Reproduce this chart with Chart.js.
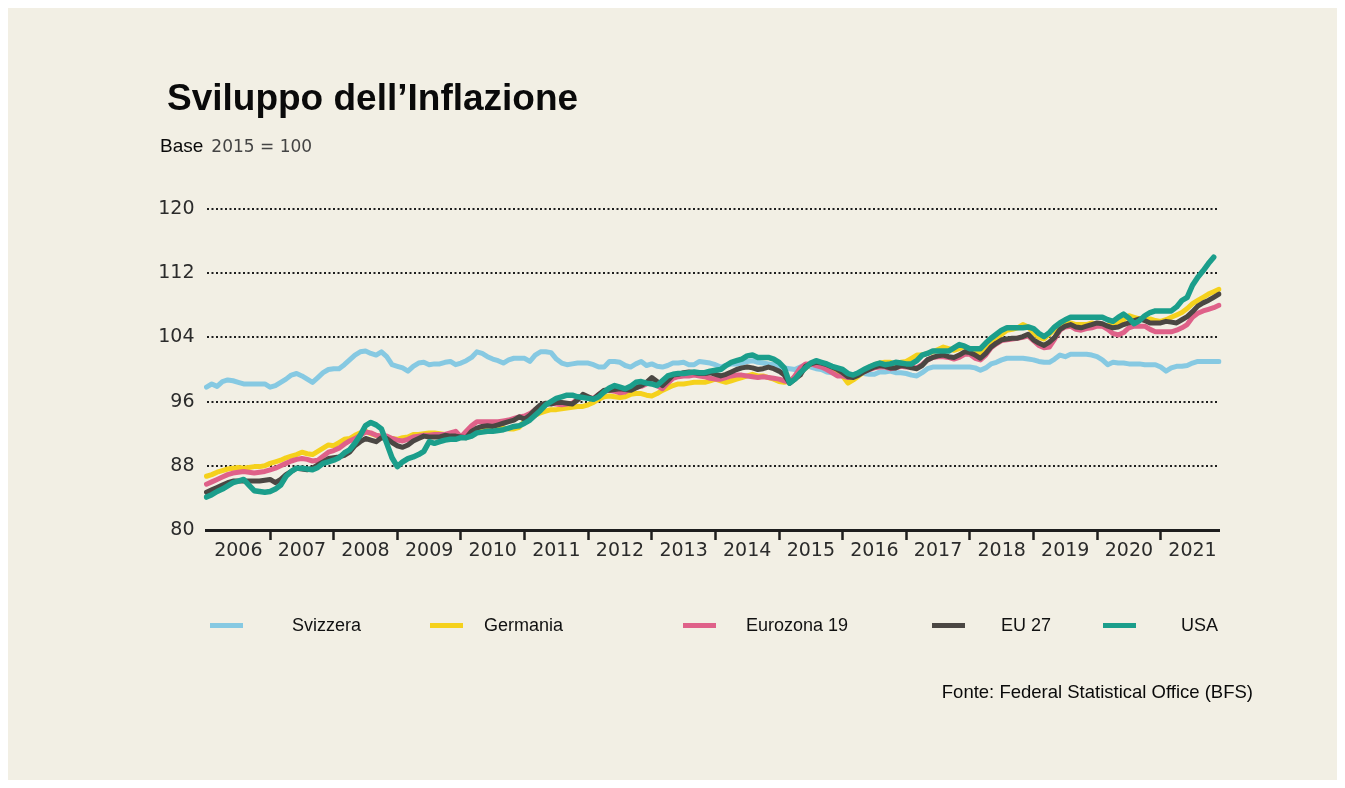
<!DOCTYPE html>
<html>
<head>
<meta charset="utf-8">
<script src="https://cdn.jsdelivr.net/npm/chart.js@4"></script>
<style>
  html, body { margin: 0; padding: 0; background: #ffffff; }
  #panel {
    position: absolute; left: 8px; top: 8px; width: 1329px; height: 772px;
    background: #f2efe4;
  }
  #wrap { position: absolute; left: 0; top: 0; width: 1345px; height: 788px; }
  .txt { position: absolute; white-space: nowrap; color: #0a0a0a; }
  #title { left: 167px; top: 79px; font: bold 37px "Liberation Sans", Arial, sans-serif; line-height: 37px; }
  #base { left: 160px; top: 136px; font: 19px "Liberation Sans", Arial, sans-serif; line-height: 19px; }
  #base span { font: 17px "DejaVu Sans", sans-serif; color: #444; margin-left: 8px; }
  .lg-line { position: absolute; width: 33px; height: 5px; top: 623px; }
  .lg-text { position: absolute; top: 616px; font: 18px "Liberation Sans", Arial, sans-serif; line-height: 18px; color: #111; }
  #source { right: 92px; top: 682px; font: 18.5px "Liberation Sans", Arial, sans-serif; line-height: 19px; }
</style>
</head>
<body>
<div id="panel"></div>
<div id="wrap"><canvas id="inflChart" width="1345" height="788"></canvas></div>
<div class="txt" id="title">Sviluppo dell’Inflazione</div>
<div class="txt" id="base">Base<span>2015 = 100</span></div>
<div id="legend"></div>
<div class="txt" id="source">Fonte: Federal Statistical Office (BFS)</div>
<script>
const years = [2006, 2007, 2008, 2009, 2010, 2011, 2012, 2013, 2014, 2015, 2016, 2017, 2018, 2019, 2020, 2021];
const yTicks = [80, 88, 96, 104, 112, 120];

// monthly index values, Jan 2006 - Dec 2021 (one row per year)
const svizzera = [
  97.8, 98.2, 97.9, 98.5, 98.7, 98.6, 98.4, 98.2, 98.2, 98.2, 98.2, 98.2,
  97.8, 98.0, 98.4, 98.8, 99.3, 99.5, 99.2, 98.8, 98.4, 99.0, 99.6, 100.0,
  100.1, 100.1, 100.6, 101.2, 101.8, 102.2, 102.3, 102.0, 101.8, 102.2, 101.6, 100.6,
  100.4, 100.2, 99.8, 100.4, 100.8, 100.9, 100.6, 100.7, 100.7, 100.9, 101.0, 100.6,
  100.8, 101.1, 101.5, 102.2, 102.0, 101.6, 101.3, 101.1, 100.8, 101.2, 101.4, 101.4,
  101.4, 101.0, 101.8, 102.2, 102.2, 102.1, 101.3, 100.8, 100.6, 100.7, 100.8, 100.8,
  100.8, 100.6, 100.3, 100.3, 101.0, 101.0, 100.9, 100.5, 100.3, 100.7, 101.0, 100.5,
  100.7, 100.4, 100.3, 100.5, 100.8, 100.8, 100.9, 100.6, 100.6, 101.0, 100.9, 100.8,
  100.6, 100.3, 100.5, 100.7, 100.7, 100.8, 101.0, 101.1, 100.9, 100.8, 100.7, 100.6,
  100.4, 100.2, 100.1, 100.0, 100.3, 100.6, 100.3, 100.1, 100.0, 99.7, 99.6, 99.6,
  99.6, 99.3, 99.3, 99.6, 99.5, 99.4, 99.4, 99.7, 99.7, 99.8, 99.6, 99.6,
  99.5, 99.3, 99.2, 99.6, 100.1, 100.3, 100.3, 100.3, 100.3, 100.3, 100.3, 100.3,
  100.3, 100.2, 99.9, 100.2, 100.7, 100.9, 101.2, 101.4, 101.4, 101.4, 101.4, 101.3,
  101.2, 101.0, 100.9, 100.9, 101.3, 101.8, 101.6, 101.9, 101.9, 101.9, 101.9, 101.8,
  101.6, 101.2, 100.6, 100.9, 100.8, 100.8, 100.7, 100.7, 100.7, 100.6, 100.6, 100.6,
  100.3, 99.8, 100.2, 100.4, 100.4, 100.5, 100.8, 101.0, 101.0, 101.0, 101.0, 101.0
];
const germania = [
  86.7, 86.9, 87.2, 87.4, 87.6, 87.7, 87.8, 87.7, 87.8, 87.9, 87.9, 88.0,
  88.3, 88.5, 88.7, 89.0, 89.2, 89.4, 89.7, 89.5, 89.4, 89.8, 90.2, 90.6,
  90.5, 90.9, 91.3, 91.4, 91.8, 92.1, 92.3, 92.0, 91.8, 91.6, 91.5, 91.4,
  91.3, 91.5, 91.6, 91.9, 91.9, 92.0, 92.1, 92.1, 92.0, 91.9, 91.9, 91.8,
  91.7, 91.9, 92.1, 92.4, 92.5, 92.5, 92.6, 92.6, 92.7, 92.6, 92.6, 92.8,
  93.6, 94.0, 94.3, 94.6, 94.8, 95.0, 95.0, 95.1, 95.2, 95.3, 95.4, 95.4,
  95.6, 95.9, 96.3, 96.6, 96.7, 96.6, 96.5, 96.6, 96.9, 97.0, 97.0, 96.8,
  96.7, 97.0, 97.4, 97.7, 98.0, 98.2, 98.2, 98.3, 98.4, 98.4, 98.4, 98.6,
  98.8, 98.6, 98.4, 98.6, 98.8, 99.0, 99.2, 99.4, 99.2, 99.2, 99.0, 98.8,
  98.5, 98.4, 98.6, 99.0, 99.6, 100.2, 100.7, 100.6, 100.4, 100.2, 100.0, 99.8,
  99.2, 98.3, 98.7, 99.2, 99.7, 100.3, 100.6, 100.8, 100.9, 100.9, 100.6, 100.9,
  101.0, 101.4, 101.8, 101.8, 102.0, 102.2, 102.5, 102.8, 102.6, 102.4, 102.6, 102.9,
  102.4, 102.3, 102.0, 102.4, 103.2, 103.8, 104.4, 104.9, 105.0, 105.2, 105.6, 105.3,
  104.6, 104.0, 103.8, 104.4, 105.0, 105.5, 105.8, 105.8, 105.6, 105.6, 105.6, 105.8,
  105.6, 105.4, 105.5, 105.7, 105.8, 106.2, 106.7, 106.5, 106.3, 106.3, 106.3, 106.1,
  106.0, 106.2, 106.5, 106.8, 107.1, 107.6, 108.2, 108.6, 109.0, 109.4, 109.7, 110.0
];
const eurozona = [
  85.7, 86.0, 86.3, 86.6, 86.9, 87.1, 87.2, 87.3, 87.2, 87.1, 87.2, 87.3,
  87.5, 87.7, 88.0, 88.3, 88.6, 88.8, 88.9, 88.8, 88.6, 88.7, 89.2, 89.7,
  89.9, 90.2, 90.7, 91.1, 91.4, 91.8, 92.2, 92.1, 91.8, 91.7, 91.7, 91.4,
  91.2, 91.1, 91.3, 91.6, 91.7, 91.8, 91.8, 91.9, 91.9, 91.9, 92.1, 92.3,
  91.6, 92.3, 93.0, 93.5, 93.5, 93.5, 93.5, 93.5, 93.6, 93.7, 93.9, 94.1,
  94.2, 94.5, 95.0, 95.4, 95.6, 95.8, 95.7, 95.6, 95.7, 95.8, 96.3, 96.7,
  96.5, 96.4, 96.9, 97.3, 97.4, 97.3, 97.1, 97.2, 97.6, 97.8, 97.9, 98.2,
  98.6, 98.0, 97.6, 98.3, 98.9, 99.1, 99.2, 99.2, 99.3, 99.2, 99.1, 98.9,
  98.8, 98.8, 99.0, 99.2, 99.3, 99.3, 99.2, 99.1, 99.0, 99.1, 99.0, 98.9,
  98.8, 98.6, 98.4, 99.2, 100.2, 100.7, 100.7, 100.5, 100.3, 100.0, 99.6, 99.2,
  99.2, 99.0, 99.1, 99.4, 99.7, 100.0, 100.2, 100.3, 100.3, 100.1, 100.2, 100.4,
  100.3, 100.3, 100.2, 100.6, 101.2, 101.5, 101.6, 101.6, 101.5, 101.3, 101.5, 101.9,
  101.9, 101.4, 101.2, 101.8, 102.7, 103.2, 103.6, 103.7, 103.8, 103.9, 104.0, 104.2,
  103.6, 103.0, 102.7, 102.8, 103.8, 104.9, 105.3, 105.4, 105.0, 104.9, 105.1, 105.2,
  105.4, 105.4, 105.0, 104.5, 104.3, 104.6, 105.2, 105.4, 105.4, 105.4, 105.0, 104.7,
  104.7, 104.7, 104.7, 104.9, 105.2, 105.6, 106.5, 107.0, 107.3, 107.5, 107.7, 108.0
];
const eu27 = [
  84.7, 85.0, 85.3, 85.6, 85.9, 86.1, 86.1, 86.1, 86.1, 86.1, 86.1, 86.2,
  86.3, 85.9, 86.3, 86.9, 87.3, 87.7, 87.6, 87.5, 87.7, 88.1, 88.5, 88.9,
  89.0, 89.1, 89.3, 89.7, 90.5, 91.0, 91.4, 91.2, 91.0, 91.5, 91.4, 90.9,
  90.5, 90.3, 90.6, 91.1, 91.4, 91.7, 91.6, 91.6, 91.6, 91.8, 91.7, 91.7,
  91.6, 91.5, 92.3, 92.7, 92.9, 93.0, 92.9, 93.1, 93.3, 93.5, 93.7, 94.1,
  93.8, 94.3, 95.0, 95.6, 95.8, 95.7, 95.9, 95.9, 95.8, 95.7, 96.2, 96.9,
  96.6, 96.3, 96.9, 97.4, 97.4, 97.5, 97.6, 97.5, 97.4, 97.7, 98.0, 98.4,
  99.0, 98.5, 98.0, 98.6, 99.3, 99.4, 99.6, 99.7, 99.6, 99.5, 99.5, 99.6,
  99.4, 99.2, 99.4, 99.7, 100.0, 100.2, 100.3, 100.2, 100.0, 100.1, 100.3, 100.1,
  99.8, 99.3, 98.3, 98.8, 99.3, 100.4, 100.7, 100.9, 100.8, 100.6, 100.3, 100.0,
  99.6, 99.1, 99.0, 99.3, 99.7, 100.0, 100.3, 100.5, 100.4, 100.2, 100.2, 100.5,
  100.4, 100.2, 100.1, 100.5, 101.2, 101.5, 101.7, 101.8, 101.6, 101.5, 101.8, 102.2,
  102.1, 101.8, 101.4, 102.0, 102.8, 103.3, 103.7, 103.8, 103.9, 103.9, 104.1, 104.4,
  103.7, 103.3, 103.0, 103.4, 104.0, 105.0, 105.4, 105.6, 105.3, 105.2, 105.4, 105.6,
  105.8, 105.7, 105.4, 105.2, 105.3, 105.6, 105.8, 106.1, 106.3, 106.1, 105.8, 105.8,
  105.8, 106.0, 105.9, 105.8, 106.2, 106.6, 107.2, 107.9, 108.3, 108.6, 109.0, 109.4
];
const usa = [
  84.1, 84.4, 84.8, 85.1, 85.5, 85.9, 86.1, 86.3, 85.6, 84.9, 84.8, 84.7,
  84.8, 85.1, 85.6, 86.7, 87.3, 87.7, 87.7, 87.6, 87.5, 87.8, 88.3, 88.5,
  88.7, 89.0, 89.6, 90.0, 90.8, 91.8, 93.0, 93.4, 93.1, 92.6, 90.8, 89.0,
  87.9, 88.5, 88.9, 89.1, 89.4, 89.8, 91.0, 90.8, 91.0, 91.2, 91.3, 91.3,
  91.5, 91.5, 91.7, 92.1, 92.2, 92.3, 92.3, 92.4, 92.5, 92.7, 92.9, 93.0,
  93.3, 93.7, 94.3, 94.9, 95.6, 96.0, 96.4, 96.6, 96.8, 96.8, 96.6, 96.5,
  96.4, 96.3, 96.6, 97.2, 97.7, 98.0, 97.8, 97.6, 97.9, 98.4, 98.5, 98.3,
  98.2, 98.0, 98.6, 99.2, 99.4, 99.5, 99.5, 99.6, 99.7, 99.6, 99.6, 99.8,
  99.9, 100.0, 100.5, 100.9, 101.1, 101.3, 101.7, 101.8, 101.5, 101.5, 101.5, 101.3,
  100.9, 100.2, 98.3, 98.8, 99.6, 100.2, 100.8, 101.1, 100.9, 100.7, 100.4, 100.2,
  100.0, 99.5, 99.3, 99.6, 100.0, 100.3, 100.6, 100.8, 100.6, 100.7, 100.9, 100.8,
  100.7, 100.7, 101.1, 101.8, 102.0, 102.3, 102.3, 102.3, 102.3, 102.7, 103.1, 102.9,
  102.6, 102.6, 102.6, 103.3, 103.9, 104.4, 104.9, 105.2, 105.2, 105.2, 105.2, 105.3,
  105.1, 104.5, 104.1, 104.6, 105.3, 105.8, 106.2, 106.5, 106.5, 106.5, 106.5, 106.5,
  106.5, 106.5, 106.2, 106.0, 106.5, 106.9, 106.4, 105.7, 106.1, 106.7, 107.1, 107.3,
  107.3, 107.3, 107.3, 107.8, 108.6, 109.0, 110.5, 111.5, 112.3, 113.2, 114.0, null
];

const seriesNames = ["Svizzera", "Germania", "Eurozona 19", "EU 27", "USA"];
const seriesColors = ["#86c9e2", "#f5d11c", "#df6189", "#4b4743", "#1b9e8b"];
const seriesData = [svizzera, germania, eurozona, eu27, usa];
// html legend positions (line left, text left)
const legendLineX = [210, 430, 683, 932, 1103];
const legendTextX = [292, 484, 746, 1001, 1181];

const monthLabels = [];
years.forEach((y) => {
  for (let m = 1; m <= 12; m++) monthLabels.push(y + "-" + String(m).padStart(2, "0"));
});

const axisFont = { family: "DejaVu Sans", size: 19 };

const ctx = document.getElementById("inflChart").getContext("2d");
const inflChart = new Chart(ctx, {
  type: "line",
  data: {
    labels: monthLabels,
    datasets: seriesNames.map((name, i) => ({
      label: name,
      data: seriesData[i],
      borderColor: seriesColors[i],
      borderWidth: i === 4 ? 5.5 : 5,
      pointRadius: 0,
      tension: 0,
      borderJoinStyle: "round",
      borderCapStyle: "round",
      order: seriesNames.length - i, // USA drawn on top
    })),
  },
  options: {
    responsive: false,
    animation: false,
    events: [],
    layout: { padding: { left: 140, right: 126, top: 209, bottom: 218 } },
    plugins: { legend: { display: false }, tooltip: { enabled: false } },
    scales: {
      x: {
        type: "category",
        offset: false,
        afterFit: (scale) => { scale.height = 40; },
        border: { display: true, color: "#1e1e1e", width: 3 },
        grid: {
          drawOnChartArea: false,
          drawTicks: true,
          tickLength: 10,
          tickWidth: 2.5,
          tickColor: (c) => (c.index % 12 === 0 && c.index > 0 ? "#1e1e1e" : "rgba(0,0,0,0)"),
        },
        ticks: {
          autoSkip: false,
          maxRotation: 0,
          padding: 0,
          color: "#2b2b2b",
          font: axisFont,
          callback: (val, index) => (index % 12 === 6 ? String(years[Math.floor(index / 12)]) : ""),
        },
      },
      y: {
        min: yTicks[0],
        max: yTicks[yTicks.length - 1],
        afterFit: (scale) => { scale.width = 66.5; },
        afterBuildTicks: (scale) => { scale.ticks = yTicks.map((v) => ({ value: v })); },
        border: { display: false, dash: [2, 2.5] },
        grid: {
          drawTicks: false,
          lineWidth: 2,
          color: (c) => (c.tick && c.tick.value === yTicks[0] ? "rgba(0,0,0,0)" : "#1e1e1e"),
        },
        ticks: {
          padding: 12,
          color: "#2b2b2b",
          font: axisFont,
        },
      },
    },
  },
});

// legend below the chart
const legendEl = document.getElementById("legend");
seriesNames.forEach((name, i) => {
  const ln = document.createElement("div");
  ln.className = "lg-line";
  ln.style.left = legendLineX[i] + "px";
  ln.style.background = seriesColors[i];
  legendEl.appendChild(ln);
  const tx = document.createElement("div");
  tx.className = "lg-text";
  tx.style.left = legendTextX[i] + "px";
  tx.textContent = name;
  legendEl.appendChild(tx);
});
</script>
</body>
</html>
